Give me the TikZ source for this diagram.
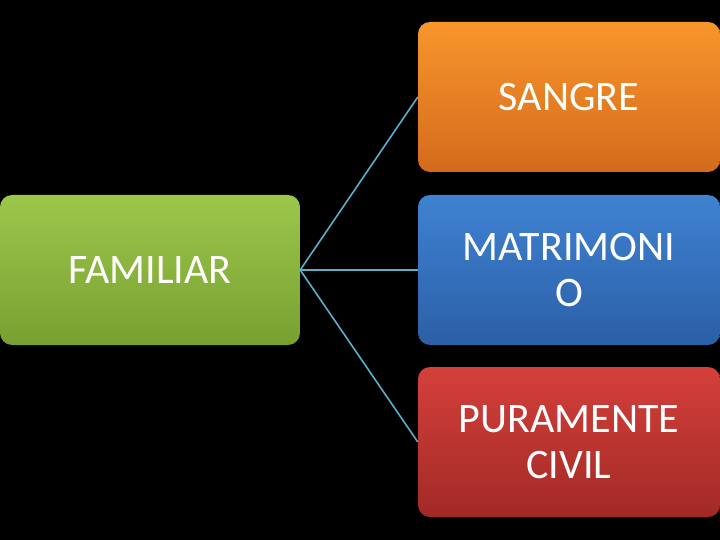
\documentclass[tikz,border=0pt]{standalone}
\usepackage{fontspec}
\setmainfont{Carlito}
\definecolor{og1}{HTML}{F8962C}\definecolor{og2}{HTML}{D46A1C}
\definecolor{gr1}{HTML}{9CC74B}\definecolor{gr2}{HTML}{78A031}
\definecolor{bl1}{HTML}{3F82D2}\definecolor{bl2}{HTML}{2B5FA6}
\definecolor{rd1}{HTML}{D4403B}\definecolor{rd2}{HTML}{A22926}
\definecolor{ln}{HTML}{5AAFC9}
\begin{document}
\begin{tikzpicture}[x=1pt,y=-1pt,
  box/.style={rounded corners=12pt,minimum width=302pt,minimum height=150pt,inner sep=0pt,
    align=center,text=white,font=\fontsize{42}{46}\selectfont},
  conn/.style={draw=ln,line width=1.6pt}]
\fill[black] (0,0) rectangle (720,540);
\useasboundingbox (0,0) rectangle (720,540);
\node[box,minimum width=300pt,top color=gr1,bottom color=gr2] (f) at (150,270) {FAMILIAR};
\node[box,top color=og1,bottom color=og2] (s) at (569,97) {SANGRE};
\node[box,top color=bl1,bottom color=bl2] (m) at (569,270) {MATRIMONI\\O};
\node[box,top color=rd1,bottom color=rd2] (p) at (569,442) {PURAMENTE\\CIVIL};
\draw[conn] (f.east) -- (s.west);
\draw[conn] (f.east) -- (m.west);
\draw[conn] (f.east) -- (p.west);
\end{tikzpicture}
\end{document}
